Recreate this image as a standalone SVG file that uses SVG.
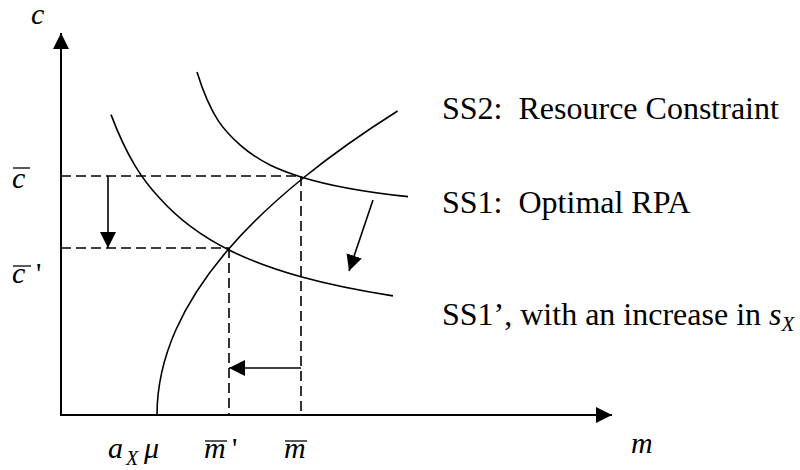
<svg xmlns="http://www.w3.org/2000/svg" width="800" height="470" viewBox="0 0 800 470">
<style>
.ax{stroke:#000;stroke-width:2;fill:none}
.cv{stroke:#000;stroke-width:1.6;fill:none}
.ds{stroke:#000;stroke-width:1.6;fill:none;stroke-dasharray:10,5}
.ar{stroke:#000;stroke-width:1.6;fill:none}
text{font-family:"Liberation Serif","Times New Roman",serif;font-size:32px;fill:#000}
.it{font-style:italic;font-size:30px}
.sub{font-style:italic;font-size:20px}
.pr{font-size:30px}
.ol{stroke:#000;stroke-width:1.3}
</style>
<defs>
<marker id="head" viewBox="0 0 16 16" refX="16" refY="8" markerWidth="16" markerHeight="16" markerUnits="userSpaceOnUse" orient="auto">
<path d="M0,0 L16,8 L0,16 z" fill="#000"/>
</marker>
</defs>
<rect width="800" height="470" fill="#fff"/>
<g id="axes">
<line class="ax" x1="61" y1="415" x2="61" y2="33" marker-end="url(#head)"/>
<line class="ax" x1="60" y1="415" x2="612" y2="415" marker-end="url(#head)"/>
</g>
<g id="guides">
<line class="ds" x1="61" y1="176" x2="301" y2="176"/>
<line class="ds" x1="61" y1="248" x2="229" y2="248"/>
<line class="ds" x1="301" y1="176" x2="301" y2="415"/>
<line class="ds" x1="229" y1="248" x2="229" y2="415"/>
</g>
<g id="ss1-prime">
<path class="cv" d="M111,114.6 C127.33,157.65 142.67,180.3 160,198.5 C183,224.1 206,238.5 229,250 C252.67,261.8 276.33,269.9 300,276.5 C331,285.1 362,291 393,295.9"/>
</g>
<g id="ss1">
<path class="cv" d="M197,72 C211.33,118.5 225.67,132.1 240,144.8 C260.33,162.8 280.67,170.5 301,176.9 C336.67,188.1 372.33,192.8 408,196.6"/>
</g>
<g id="ss2">
<path class="cv" d="M157,415 C157,386.7 163.3,358.3 175.8,330 C187.75,303 205.4,276 228.7,249 C249.15,225.3 274,201.67 303.2,178 C330.76,155.67 362.25,133.33 397.6,111"/>
</g>
<g id="connectors">
<line class="ar" x1="108" y1="176" x2="108" y2="248" marker-end="url(#head)"/>
<line class="ar" x1="301" y1="368" x2="229" y2="368" marker-end="url(#head)"/>
<line class="ar" x1="373" y1="200" x2="349" y2="271" marker-end="url(#head)"/>
</g>
<g id="labels">
<text class="it" x="31" y="24">c</text>
<text class="it" x="12" y="188">c</text>
<line class="ol" x1="13" y1="168" x2="30" y2="168"/>
<text class="it" x="12" y="283">c</text>
<line class="ol" x1="13" y1="266" x2="31" y2="266"/>
<text class="pr" x="36" y="283">'</text>
<text class="it" x="108" y="458">a</text>
<text class="sub" x="126" y="465">X</text>
<text class="it" x="144" y="458">μ</text>
<text class="it" x="204" y="458">m</text>
<line class="ol" x1="205" y1="441" x2="227" y2="441"/>
<text class="pr" x="232" y="458">'</text>
<text class="it" x="284" y="458">m</text>
<line class="ol" x1="285" y1="441" x2="307" y2="441"/>
<text class="it" x="631" y="453">m</text>
<text x="442" y="119" xml:space="preserve">SS2:  Resource Constraint</text>
<text x="442" y="213" xml:space="preserve">SS1:  Optimal RPA</text>
<text x="442" y="325">SS1’, with an increase in <tspan style="font-style:italic">s</tspan><tspan style="font-style:italic;font-size:21px" dy="6">X</tspan></text>
</g>
</svg>
